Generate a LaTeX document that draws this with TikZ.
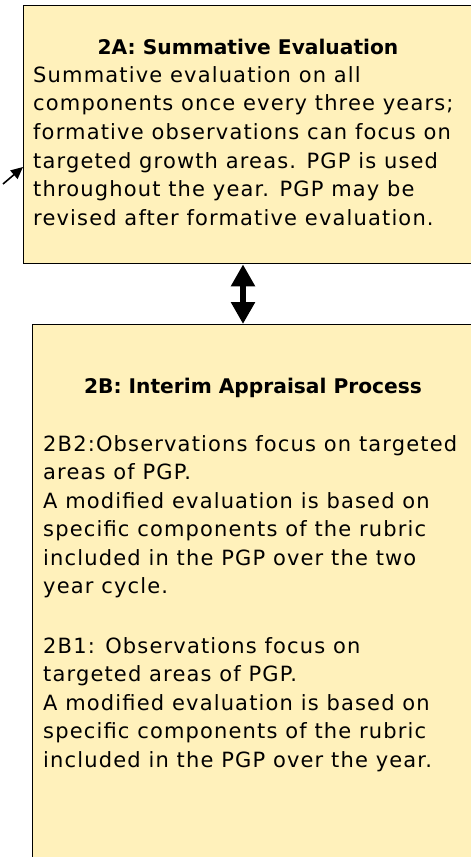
\documentclass[tikz,border=0pt]{standalone}
\usepackage{fontspec}
\setmainfont{DejaVu Sans}
\newfontfamily\bodyfont[LetterSpace=5.5]{DejaVu Sans}
\usetikzlibrary{arrows.meta}
\definecolor{boxfill}{RGB}{255,241,187}
\tikzset{
  box/.style={draw=black, line width=1.4pt, fill=boxfill, rectangle, inner sep=0pt, anchor=north west},
  ttl/.style={anchor=base, inner sep=0pt, font=\fontsize{20.2}{24}\selectfont\bfseries},
  txt/.style={anchor=base west, inner sep=0pt, font=\bodyfont\fontsize{21}{25}\selectfont},
  dbl/.style={line width=6pt, {Triangle[width=23pt,length=22pt]}-{Triangle[width=23pt,length=22pt]}, shorten <=0pt, shorten >=0pt},
  sml/.style={line width=1.6pt, -{Triangle[width=11pt,length=12pt]}}
}
\begin{document}
\begin{tikzpicture}[x=1pt,y=-1pt]
\useasboundingbox (0,0) rectangle (471,857);
\node[box, minimum width=450pt, minimum height=258pt] (A) at (23,5) {};
\node[box, minimum width=442pt, minimum height=546pt] (B) at (32,324) {};
\node[ttl] (At) at (248,54) {2A: Summative Evaluation};
\foreach \t [count=\i from 0] in {Summative evaluation on all,components once every three years;,formative observations can focus on,targeted growth areas. PGP is used,throughout the year. PGP may be,revised after formative evaluation.}
  \node[txt] (A\i) at (33,82+28.7*\i) {\t};
\node[ttl] (Bt) at (253,393) {2B: Interim Appraisal Process};
\foreach \t [count=\i from 0] in {2B2:Observations focus on targeted,areas of PGP.,A modified evaluation is based on,specific components of the rubric,included in the PGP over the two,year cycle.}
  \node[txt] (B\i) at (43,451+28.5*\i) {\t};
\foreach \t [count=\i from 0] in {2B1: Observations focus on,targeted areas of PGP.,A modified evaluation is based on,specific components of the rubric,included in the PGP over the year.}
  \node[txt] (C\i) at (43,653+28.5*\i) {\t};
\coordinate (ax) at (243,0);
\draw[dbl] (A.south -| ax) -- (B.north -| ax);
\coordinate (s) at (3,184);
\coordinate (e) at (0,167);
\draw[sml] (s) -- (A.west |- e);
\end{tikzpicture}
\end{document}
